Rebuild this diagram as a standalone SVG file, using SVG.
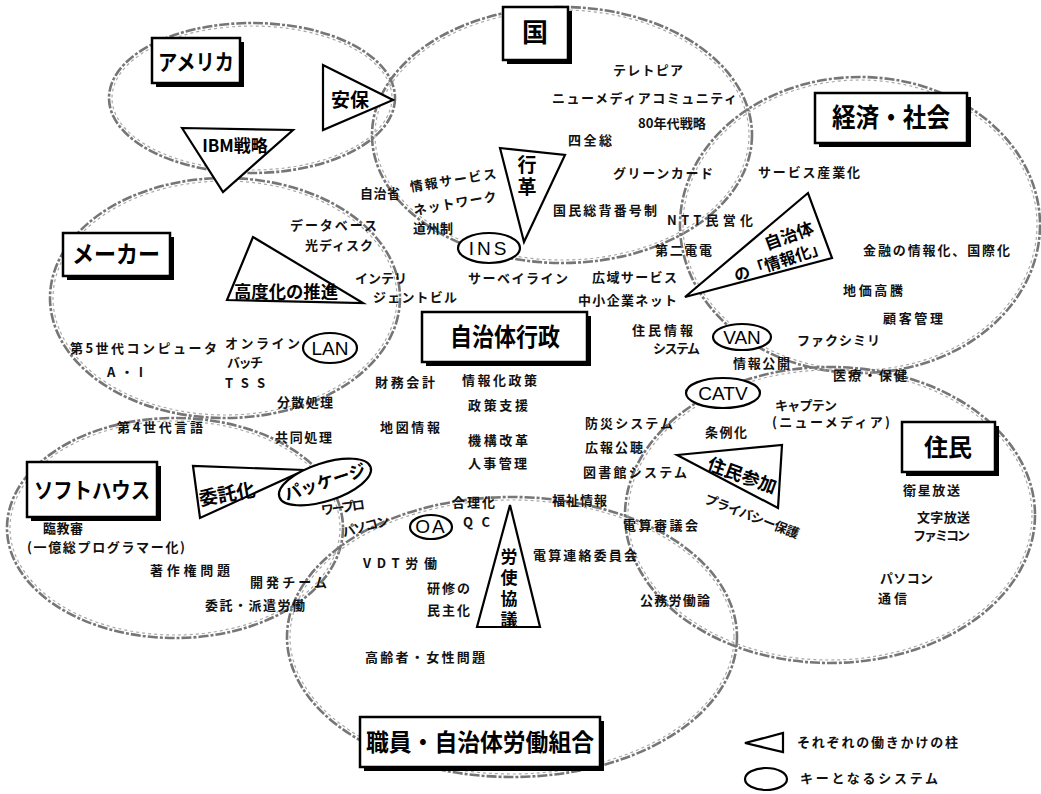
<svg xmlns="http://www.w3.org/2000/svg" width="1041" height="794" viewBox="0 0 1041 794">
<style>
.blob{fill:none;stroke:#767676;stroke-width:2.6;stroke-dasharray:10 2 3 2;}
.blob2{fill:none;stroke:#a8a8a8;stroke-width:1.2;stroke-dasharray:3 3;}
.box{fill:#fff;stroke:#000;stroke-width:2.5;}
.sh{fill:#000;}
.tri{fill:#fff;stroke:#000;stroke-width:2.2;stroke-linejoin:miter;}
.key{fill:#fff;stroke:#000;stroke-width:2.2;}
.lbl{font-family:"Noto Sans CJK JP",sans-serif;font-weight:700;fill:#000;text-anchor:middle;}
.vt{font-family:"Noto Sans CJK JP",sans-serif;font-weight:700;fill:#000;writing-mode:vertical-rl;text-anchor:start;}
.t{font-family:"Noto Sans CJK JP",sans-serif;font-weight:700;font-size:13px;fill:#111;}
.en{font-family:"Liberation Sans",sans-serif;font-size:19px;fill:#000;text-anchor:middle;}
</style>
<rect width="1041" height="794" fill="#fff"/>

<g id="region-outlines">
  <g id="blob-america"><ellipse class="blob" cx="252" cy="98" rx="143" ry="75"/><ellipse class="blob2" cx="252" cy="98" rx="140" ry="72"/></g>
  <g id="blob-kuni"><ellipse class="blob" cx="562" cy="135" rx="190" ry="128"/><ellipse class="blob2" cx="562" cy="135" rx="187" ry="125"/></g>
  <g id="blob-keizai"><ellipse class="blob" cx="860" cy="225" rx="180" ry="148"/><ellipse class="blob2" cx="860" cy="225" rx="177" ry="145"/></g>
  <g id="blob-maker"><ellipse class="blob" cx="225" cy="298" rx="175" ry="120"/><ellipse class="blob2" cx="225" cy="298" rx="172" ry="117"/></g>
  <g id="blob-softhouse"><ellipse class="blob" cx="175" cy="528" rx="168" ry="110"/><ellipse class="blob2" cx="175" cy="528" rx="165" ry="107"/></g>
  <g id="blob-shokuin"><ellipse class="blob" cx="512" cy="637" rx="225" ry="140"/><ellipse class="blob2" cx="512" cy="637" rx="222" ry="137"/></g>
  <g id="blob-jumin"><ellipse class="blob" cx="830" cy="515" rx="205" ry="148"/><ellipse class="blob2" cx="830" cy="515" rx="202" ry="145"/></g>
</g>

<g id="connectors"></g>

<!-- pillar triangles -->
<g id="tri-anpo"><polygon class="tri" points="323,65 323,130 393,100"/><text class="lbl" x="350" y="107" font-size="19">安保</text></g>
<g id="tri-ibm"><polygon class="tri" points="182,128 293,130 223,192"/><text class="lbl" x="235" y="152" font-size="17">IBM戦略</text></g>
<g id="tri-gyokaku"><polygon class="tri" points="500,148 565,155 524,242"/><text class="vt" x="527" y="155" font-size="19" letter-spacing="3">行革</text></g>
<g id="tri-johoka"><polygon class="tri" points="685,297 808,193 832,258"/>
  <text class="lbl" x="789" y="242" font-size="17" transform="rotate(-20 789 236)">自治体</text>
  <text class="lbl" x="780" y="267" font-size="16" transform="rotate(-18 780 261)">の「情報化」</text></g>
<g id="tri-kodoka"><polygon class="tri" points="253,237 227,300 363,303"/><text class="lbl" x="234" y="298" font-size="17" style="text-anchor:start" textLength="104" lengthAdjust="spacingAndGlyphs">高度化の推進</text></g>
<g id="tri-itakuka"><polygon class="tri" points="193,466 200,518 305,470"/><text class="lbl" x="227" y="501" font-size="19" transform="rotate(-10 227 494)">委託化</text></g>
<g id="tri-jumin-sanka"><polygon class="tri" points="677,455 782,445 778,508"/><text class="lbl" x="742" y="482" font-size="18" transform="rotate(20 742 476)">住民参加</text></g>
<g id="tri-roshi"><polygon class="tri" points="510,505 540,627 477,627"/><text class="vt" x="509" y="548" font-size="17" letter-spacing="4">労使協議</text></g>

<!-- key systems -->
<g id="key-ins"><ellipse class="key" cx="489" cy="248" rx="31" ry="15"/><text class="en" x="489" y="255" letter-spacing="3">INS</text></g>
<g id="key-lan"><ellipse class="key" cx="330" cy="348" rx="27" ry="15"/><text class="en" x="330" y="355">LAN</text></g>
<g id="key-van"><ellipse class="key" cx="742" cy="337" rx="29" ry="13"/><text class="en" x="742" y="344">VAN</text></g>
<g id="key-catv"><ellipse class="key" cx="723" cy="393" rx="37" ry="15"/><text class="en" x="723" y="400">CATV</text></g>
<g id="key-oa"><ellipse class="key" cx="431" cy="527" rx="21" ry="12"/><text class="en" x="431" y="533" font-size="17" letter-spacing="2">OA</text></g>
<g id="key-package"><ellipse class="key" cx="325" cy="482" rx="48" ry="19" transform="rotate(-18 325 482)"/><text class="lbl" x="325" y="488" font-size="17" transform="rotate(-18 325 482)">パッケージ</text></g>

<!-- actor boxes -->
<g id="box-america"><rect class="sh" x="156" y="42" width="88" height="45"/><rect class="box" x="152" y="38" width="88" height="45"/><text class="lbl" x="196" y="70" font-size="22" textLength="76" lengthAdjust="spacingAndGlyphs">アメリカ</text></g>
<g id="box-kuni"><rect class="sh" x="507" y="11" width="65" height="53"/><rect class="box" x="503" y="7" width="65" height="53"/><text class="lbl" x="535" y="42" font-size="26">国</text></g>
<g id="box-keizai"><rect class="sh" x="819" y="97" width="152" height="50"/><rect class="box" x="815" y="93" width="152" height="50"/><text class="lbl" x="891" y="127" font-size="26" textLength="118" lengthAdjust="spacingAndGlyphs">経済・社会</text></g>
<g id="box-maker"><rect class="sh" x="67" y="237" width="107" height="43"/><rect class="box" x="63" y="233" width="107" height="43"/><text class="lbl" x="116" y="263" font-size="24" textLength="88" lengthAdjust="spacingAndGlyphs">メーカー</text></g>
<g id="box-softhouse"><rect class="sh" x="31" y="466" width="130" height="55"/><rect class="box" x="27" y="462" width="130" height="55"/><text class="lbl" x="92" y="498" font-size="22" textLength="116" lengthAdjust="spacingAndGlyphs">ソフトハウス</text></g>
<g id="box-gyosei"><rect class="sh" x="426" y="316" width="165" height="50"/><rect class="box" x="422" y="312" width="165" height="50"/><text class="lbl" x="505" y="346" font-size="25" textLength="110" lengthAdjust="spacingAndGlyphs">自治体行政</text></g>
<g id="box-jumin"><rect class="sh" x="906" y="426" width="93" height="50"/><rect class="box" x="902" y="422" width="93" height="50"/><text class="lbl" x="948" y="456" font-size="24">住民</text></g>
<g id="box-shokuin"><rect class="sh" x="364" y="721" width="240" height="50"/><rect class="box" x="360" y="717" width="240" height="50"/><text class="lbl" x="480" y="751" font-size="24" textLength="228" lengthAdjust="spacingAndGlyphs">職員・自治体労働組合</text></g>

<!-- item texts -->
<g id="items">
<text class="t" x="613" y="75" textLength="70" lengthAdjust="spacing">テレトピア</text>
<text class="t" x="552" y="103" textLength="185" lengthAdjust="spacing">ニューメディアコミュニティ</text>
<text class="t" x="638" y="128" textLength="68" lengthAdjust="spacingAndGlyphs">80年代戦略</text>
<text class="t" x="568" y="145" textLength="44" lengthAdjust="spacing">四全総</text>
<text class="t" x="613" y="178" textLength="100" lengthAdjust="spacing">グリーンカード</text>
<text class="t" x="758" y="177" textLength="102" lengthAdjust="spacing">サービス産業化</text>
<text class="t" x="553" y="215" textLength="104" lengthAdjust="spacing">国民総背番号制</text>
<text class="t" x="667" y="225" textLength="86" lengthAdjust="spacing">NTT民営化</text>
<text class="t" x="360" y="198" textLength="40" lengthAdjust="spacing">自治省</text>
<text class="t" x="453" y="185" text-anchor="middle" textLength="87" lengthAdjust="spacing" transform="rotate(-9 453 180)">情報サービス</text>
<text class="t" x="455" y="208" text-anchor="middle" textLength="84" lengthAdjust="spacing" transform="rotate(-10 455 203)">ネットワーク</text>
<text class="t" x="413" y="233" textLength="40" lengthAdjust="spacing">道州制</text>
<text class="t" x="290" y="230" textLength="87" lengthAdjust="spacing">データベース</text>
<text class="t" x="305" y="250" textLength="68" lengthAdjust="spacing">光ディスク</text>
<text class="t" x="863" y="255" textLength="147" lengthAdjust="spacing">金融の情報化、国際化</text>
<text class="t" x="655" y="255" textLength="57" lengthAdjust="spacing">第二電電</text>
<text class="t" x="355" y="283" textLength="52" lengthAdjust="spacing">インテリ</text>
<text class="t" x="373" y="302" textLength="84" lengthAdjust="spacing">ジェントビル</text>
<text class="t" x="468" y="283" textLength="100" lengthAdjust="spacing">サーベイライン</text>
<text class="t" x="592" y="282" textLength="85" lengthAdjust="spacing">広域サービス</text>
<text class="t" x="578" y="305" textLength="99" lengthAdjust="spacing">中小企業ネット</text>
<text class="t" x="843" y="295" textLength="60" lengthAdjust="spacing">地価高騰</text>
<text class="t" x="883" y="323" textLength="60" lengthAdjust="spacing">顧客管理</text>
<text class="t" x="632" y="335" textLength="61" lengthAdjust="spacing">住民情報</text>
<text class="t" x="653" y="353" textLength="47" lengthAdjust="spacing">システム</text>
<text class="t" x="797" y="345" textLength="83" lengthAdjust="spacing">ファクシミリ</text>
<text class="t" x="70" y="353" textLength="147" lengthAdjust="spacing">第5世代コンピュータ</text>
<text class="t" x="225" y="348" textLength="75" lengthAdjust="spacing">オンライン</text>
<text class="t" x="227" y="367" textLength="36" lengthAdjust="spacing">バッチ</text>
<text class="t" x="225" y="388" font-size="15" textLength="40" lengthAdjust="spacing">TSS</text>
<text class="t" x="107" y="377" textLength="36" lengthAdjust="spacing">A・I</text>
<text class="t" x="733" y="368" textLength="57" lengthAdjust="spacing">情報公開</text>
<text class="t" x="833" y="380" textLength="74" lengthAdjust="spacing">医療・保健</text>
<text class="t" x="375" y="387" textLength="60" lengthAdjust="spacing">財務会計</text>
<text class="t" x="462" y="385" textLength="75" lengthAdjust="spacing">情報化政策</text>
<text class="t" x="277" y="407" textLength="56" lengthAdjust="spacing">分散処理</text>
<text class="t" x="468" y="410" textLength="60" lengthAdjust="spacing">政策支援</text>
<text class="t" x="775" y="410" textLength="62" lengthAdjust="spacing">キャプテン</text>
<text class="t" x="772" y="427" textLength="118" lengthAdjust="spacing">(ニューメディア)</text>
<text class="t" x="585" y="428" textLength="88" lengthAdjust="spacing">防災システム</text>
<text class="t" x="117" y="432" textLength="86" lengthAdjust="spacing">第4世代言語</text>
<text class="t" x="380" y="432" textLength="60" lengthAdjust="spacing">地図情報</text>
<text class="t" x="705" y="437" textLength="42" lengthAdjust="spacing">条例化</text>
<text class="t" x="275" y="442" textLength="57" lengthAdjust="spacing">共同処理</text>
<text class="t" x="468" y="445" textLength="60" lengthAdjust="spacing">機構改革</text>
<text class="t" x="585" y="452" textLength="58" lengthAdjust="spacing">広報公聴</text>
<text class="t" x="468" y="468" textLength="59" lengthAdjust="spacing">人事管理</text>
<text class="t" x="583" y="477" textLength="104" lengthAdjust="spacing">図書館システム</text>
<text class="t" x="903" y="495" textLength="57" lengthAdjust="spacing">衛星放送</text>
<text class="t" x="552" y="505" textLength="55" lengthAdjust="spacing">福祉情報</text>
<text class="t" x="452" y="507" textLength="43" lengthAdjust="spacing">合理化</text>
<text class="t" x="343" y="512" font-size="12" text-anchor="middle" textLength="44" lengthAdjust="spacing" transform="rotate(-8 343 508)">ワープロ</text>
<text class="t" x="366" y="531" font-size="12" text-anchor="middle" textLength="48" lengthAdjust="spacing" transform="rotate(-15 366 527)">パソコン</text>
<text class="t" x="917" y="522" textLength="53" lengthAdjust="spacing">文字放送</text>
<text class="t" x="463" y="527" font-size="15" textLength="27" lengthAdjust="spacing">QC</text>
<text class="t" x="623" y="530" textLength="75" lengthAdjust="spacing">電算審議会</text>
<text class="t" x="43" y="533" font-size="12" textLength="40" lengthAdjust="spacing">臨教審</text>
<text class="t" x="27" y="552" font-size="12" textLength="158" lengthAdjust="spacing">(一億総プログラマー化)</text>
<text class="t" x="913" y="540" textLength="57" lengthAdjust="spacing">ファミコン</text>
<text class="t" x="752" y="521" text-anchor="middle" textLength="100" lengthAdjust="spacing" transform="rotate(21 752 516)">プライバシー保護</text>
<text class="t" x="363" y="568" textLength="74" lengthAdjust="spacing">VDT労働</text>
<text class="t" x="533" y="560" textLength="104" lengthAdjust="spacing">電算連絡委員会</text>
<text class="t" x="150" y="575" textLength="80" lengthAdjust="spacing">著作権問題</text>
<text class="t" x="250" y="587" textLength="77" lengthAdjust="spacing">開発チーム</text>
<text class="t" x="880" y="583" textLength="53" lengthAdjust="spacing">パソコン</text>
<text class="t" x="427" y="593" textLength="43" lengthAdjust="spacing">研修の</text>
<text class="t" x="878" y="603" textLength="29" lengthAdjust="spacing">通信</text>
<text class="t" x="640" y="605" textLength="70" lengthAdjust="spacing">公務労働論</text>
<text class="t" x="205" y="610" textLength="100" lengthAdjust="spacing">委託・派遣労働</text>
<text class="t" x="427" y="615" textLength="43" lengthAdjust="spacing">民主化</text>
<text class="t" x="365" y="662" textLength="120" lengthAdjust="spacing">高齢者・女性問題</text>
</g>

<g id="legend">
  <polygon class="tri" points="745,743 783,733 783,752"/>
  <text class="t" x="797" y="747" font-size="12" textLength="161" lengthAdjust="spacing">それぞれの働きかけの柱</text>
  <ellipse class="key" cx="766" cy="779" rx="21" ry="11"/>
  <text class="t" x="800" y="783" font-size="12" textLength="138" lengthAdjust="spacing">キーとなるシステム</text>
</g>
</svg>
